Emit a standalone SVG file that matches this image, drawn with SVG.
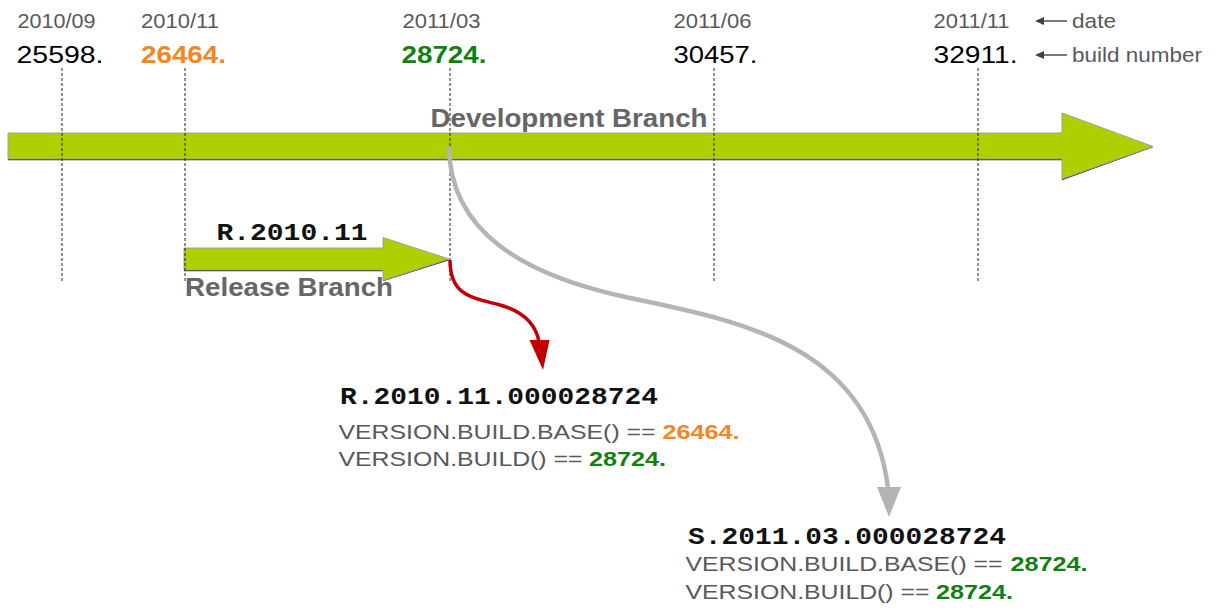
<svg xmlns="http://www.w3.org/2000/svg" width="1217" height="613" viewBox="0 0 1217 613">
  <style>
    .date { font-family: "Liberation Sans", Arial, sans-serif; font-size: 21px; fill: #595959; }
    .num { font-family: "Liberation Sans", Arial, sans-serif; font-size: 24px; fill: #000; }
    .numb { font-family: "Liberation Sans", Arial, sans-serif; font-size: 24px; font-weight: bold; }
    .orange { fill: #f5861f; }
    .green { fill: #117f11; }
    .branch { font-family: "Liberation Sans", Arial, sans-serif; font-size: 25px; font-weight: bold; fill: #666; }
    .mono { font-family: "Liberation Mono", "Courier New", monospace; font-weight: bold; fill: #111; }
    .ver { font-family: "Liberation Sans", Arial, sans-serif; font-size: 21px; fill: #595959; }
    .verb { font-family: "Liberation Sans", Arial, sans-serif; font-size: 21px; font-weight: bold; }
    .dash { stroke: #222; stroke-width: 1; stroke-dasharray: 3 2; fill: none; }
    .green-arrow { fill: #aecf00; stroke: #a0a0a0; stroke-width: 1; }
    .shadow { fill: #222; }
    .legend-line { stroke: #404040; stroke-width: 1.4; }
    .legend-head { fill: #404040; }
  </style>

  <!-- header: dates and build numbers -->
  <g id="col-2010-09">
    <text class="date" x="17.5" y="27.5" textLength="78" lengthAdjust="spacingAndGlyphs">2010/09</text>
    <text class="num" x="16.5" y="62.5" textLength="87" lengthAdjust="spacingAndGlyphs">25598.</text>
  </g>
  <g id="col-2010-11">
    <text class="date" x="141" y="27.5" textLength="78" lengthAdjust="spacingAndGlyphs">2010/11</text>
    <text class="numb orange" x="141" y="62.5" textLength="85" lengthAdjust="spacingAndGlyphs">26464.</text>
  </g>
  <g id="col-2011-03">
    <text class="date" x="402.5" y="27.5" textLength="78" lengthAdjust="spacingAndGlyphs">2011/03</text>
    <text class="numb green" x="401.5" y="62.5" textLength="85" lengthAdjust="spacingAndGlyphs">28724.</text>
  </g>
  <g id="col-2011-06">
    <text class="date" x="673.5" y="27.5" textLength="78" lengthAdjust="spacingAndGlyphs">2011/06</text>
    <text class="num" x="673.5" y="62.5" textLength="84" lengthAdjust="spacingAndGlyphs">30457.</text>
  </g>
  <g id="col-2011-11">
    <text class="date" x="933.5" y="27.5" textLength="76" lengthAdjust="spacingAndGlyphs">2011/11</text>
    <text class="num" x="933.5" y="62.5" textLength="84" lengthAdjust="spacingAndGlyphs">32911.</text>
  </g>
  <g id="legend">
    <line class="legend-line" x1="1042" y1="21" x2="1067" y2="21"/>
    <polygon class="legend-head" points="1035,21 1044,17 1044,25"/>
    <text class="date" x="1072" y="28" textLength="44" lengthAdjust="spacingAndGlyphs">date</text>
    <line class="legend-line" x1="1042" y1="55" x2="1067" y2="55"/>
    <polygon class="legend-head" points="1035,55 1044,51 1044,59"/>
    <text class="date" x="1072" y="61.5" textLength="130" lengthAdjust="spacingAndGlyphs">build number</text>
  </g>

  <!-- development branch -->
  <g id="development-branch">
    <polygon class="shadow" points="8,134.2 1062,134.2 1062,114.2 1153,147.2 1062,180.2 1062,160.2 8,160.2"/>
    <polygon class="green-arrow" points="8,133 1062,133 1062,113 1153,146.5 1062,179 1062,159 8,159"/>
    <text class="branch" x="430.5" y="126.5" textLength="277" lengthAdjust="spacingAndGlyphs">Development Branch</text>
  </g>

  <!-- release branch -->
  <g id="release-branch">
    <polygon class="shadow" points="184,249.2 383,249.2 383,239 449,260.2 383,281.2 383,271.2 184,271.2"/>
    <polygon class="green-arrow" points="184,248 383,248 383,237.5 449,259 383,280.5 383,270 184,270"/>
    <text class="mono" x="216.5" y="240" font-size="24" textLength="151" lengthAdjust="spacingAndGlyphs">R.2010.11</text>
    <text class="branch" x="185" y="296" textLength="208" lengthAdjust="spacingAndGlyphs">Release Branch</text>
  </g>

  <!-- dashed time guides -->
  <g id="guides">
    <line class="dash" x1="62" y1="68" x2="62" y2="281"/>
    <line class="dash" x1="185" y1="68" x2="185" y2="281"/>
    <line class="dash" x1="450" y1="68" x2="450" y2="281"/>
    <line class="dash" x1="714" y1="68" x2="714" y2="281"/>
    <line class="dash" x1="978" y1="68" x2="978" y2="281"/>
  </g>

  <!-- connectors -->
  <g id="connectors">
    <path d="M449,147 C450,230 520,275 630,298 C740,321 870,345 888,488" fill="none" stroke="#b4b4b4" stroke-width="4.5"/>
    <polygon points="877,487 901,487 889,517" fill="#b4b4b4"/>
    <path d="M450,260 C450,295 470,297 500,305 C525,312 536,325 539,342" fill="none" stroke="#c00000" stroke-width="3.5"/>
    <polygon points="529.5,340 549.5,340 543,370" fill="#c00000"/>
  </g>

  <!-- release result -->
  <g id="release-result">
    <text class="mono" x="340" y="403.5" font-size="23" textLength="318" lengthAdjust="spacingAndGlyphs">R.2010.11.000028724</text>
    <text class="ver" x="338.5" y="438.5" textLength="317" lengthAdjust="spacingAndGlyphs">VERSION.BUILD.BASE() ==</text>
    <text class="verb orange" x="662.5" y="438.5" textLength="77" lengthAdjust="spacingAndGlyphs">26464.</text>
    <text class="ver" x="338.5" y="466" textLength="244" lengthAdjust="spacingAndGlyphs">VERSION.BUILD() ==</text>
    <text class="verb green" x="589" y="466" textLength="77" lengthAdjust="spacingAndGlyphs">28724.</text>
  </g>

  <!-- snapshot result -->
  <g id="snapshot-result">
    <text class="mono" x="688" y="544" font-size="23" textLength="318" lengthAdjust="spacingAndGlyphs">S.2011.03.000028724</text>
    <text class="ver" x="685.5" y="571" textLength="317" lengthAdjust="spacingAndGlyphs">VERSION.BUILD.BASE() ==</text>
    <text class="verb green" x="1010.5" y="571" textLength="77" lengthAdjust="spacingAndGlyphs">28724.</text>
    <text class="ver" x="685.5" y="599" textLength="244" lengthAdjust="spacingAndGlyphs">VERSION.BUILD() ==</text>
    <text class="verb green" x="936" y="599" textLength="77" lengthAdjust="spacingAndGlyphs">28724.</text>
  </g>
</svg>
